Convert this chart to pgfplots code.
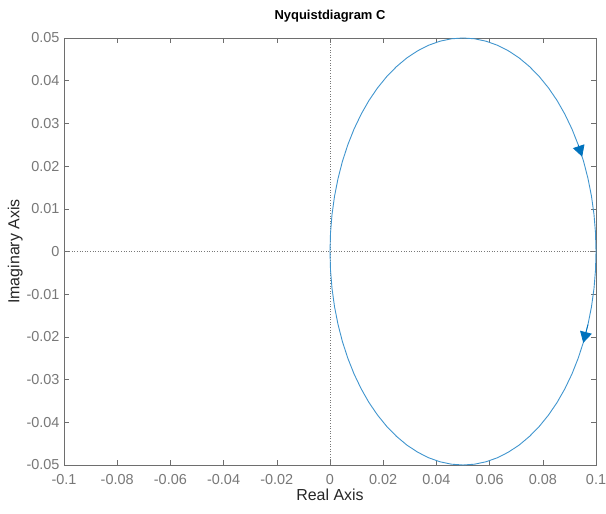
\documentclass[border=0pt]{standalone}
\usepackage{pgfplots}
\pgfplotsset{compat=1.18}
\usepackage{fontspec}
\setmainfont{Liberation Sans}
\usetikzlibrary{arrows.meta}
\definecolor{mblue}{RGB}{0,114,189}
\definecolor{axgray}{RGB}{110,110,110}
\definecolor{lblgray}{RGB}{120,120,120}
\definecolor{txtdark}{RGB}{38,38,38}

\pgfplotstableread{
x y
0.10000 0.00000
0.09981 0.00436
0.09924 0.00868
0.09830 0.01294
0.09698 0.01710
0.09532 0.02113
0.09330 0.02500
0.09096 0.02868
0.08830 0.03214
0.08536 0.03536
0.08214 0.03830
0.07868 0.04096
0.07500 0.04330
0.07113 0.04532
0.06710 0.04698
0.06294 0.04830
0.05868 0.04924
0.05436 0.04981
0.05000 0.05000
0.04564 0.04981
0.04132 0.04924
0.03706 0.04830
0.03290 0.04698
0.02887 0.04532
0.02500 0.04330
0.02132 0.04096
0.01786 0.03830
0.01464 0.03536
0.01170 0.03214
0.00904 0.02868
0.00670 0.02500
0.00468 0.02113
0.00302 0.01710
0.00170 0.01294
0.00076 0.00868
0.00019 0.00436
0.00000 0.00000
0.00019 -0.00436
0.00076 -0.00868
0.00170 -0.01294
0.00302 -0.01710
0.00468 -0.02113
0.00670 -0.02500
0.00904 -0.02868
0.01170 -0.03214
0.01464 -0.03536
0.01786 -0.03830
0.02132 -0.04096
0.02500 -0.04330
0.02887 -0.04532
0.03290 -0.04698
0.03706 -0.04830
0.04132 -0.04924
0.04564 -0.04981
0.05000 -0.05000
0.05436 -0.04981
0.05868 -0.04924
0.06294 -0.04830
0.06710 -0.04698
0.07113 -0.04532
0.07500 -0.04330
0.07868 -0.04096
0.08214 -0.03830
0.08536 -0.03536
0.08830 -0.03214
0.09096 -0.02868
0.09330 -0.02500
0.09532 -0.02113
0.09698 -0.01710
0.09830 -0.01294
0.09924 -0.00868
0.09981 -0.00436
0.10000 0.00000
}\nyqdata

\begin{document}
\begin{tikzpicture}[x=1bp,y=1bp]
\path[use as bounding box] (-64,-49) rectangle (542,465);
\begin{axis}[
  at={(0,0)}, anchor=south west,
  scale only axis,
  width=532bp, height=427bp,
  xmin=-0.1, xmax=0.1, ymin=-0.05, ymax=0.05,
  scaled x ticks=false, scaled y ticks=false,
  axis line style={axgray, line width=0.5bp},
  tick style={axgray, line width=0.5bp},
  tick align=inside,
  major tick length=5bp,
  xtick={-0.1,-0.08,-0.06,-0.04,-0.02,0,0.02,0.04,0.06,0.08,0.1},
  xticklabels={-0.1,-0.08,-0.06,-0.04,-0.02,0,0.02,0.04,0.06,0.08,0.1},
  ytick={-0.05,-0.04,-0.03,-0.02,-0.01,0,0.01,0.02,0.03,0.04,0.05},
  yticklabels={-0.05,-0.04,-0.03,-0.02,-0.01,0,0.01,0.02,0.03,0.04,0.05},
  ticklabel style={font=\fontsize{14.5}{16}\selectfont, text=lblgray},
  xticklabel style={yshift=-6bp},
  yticklabel style={xshift=-1bp},
  title={\bfseries Nyquistdiagram C},
  title style={font=\fontsize{13}{15}\selectfont, text=black, yshift=6bp},
  xlabel={Real Axis},
  ylabel={Imaginary Axis},
  label style={font=\fontsize{16}{18}\selectfont, text=txtdark},
  xlabel style={yshift=3bp},
  ylabel style={yshift=-3bp},
  /pgf/number format/assume math mode=true,
  clip=false,
]
% zero reference lines
\addplot[lblgray, dotted, line width=0.6bp] coordinates {(-0.1,0) (0.1,0)};
\addplot[lblgray, dotted, line width=0.6bp] coordinates {(0,-0.05) (0,0.05)};
% frequency response
\addplot[mblue!75!white, line width=0.9bp] table[x=x,y=y] {\nyqdata};
% direction arrows
\addplot[mblue, line width=0.8bp, -{Triangle[length=11bp,width=12bp]}]
  coordinates {(0.09330,0.02500) (0.09479,0.02220)};
\addplot[mblue, line width=0.8bp, -{Triangle[length=11bp,width=12bp]}]
  coordinates {(0.09698,-0.01710) (0.09520,-0.02140)};
\end{axis}
\end{tikzpicture}
\end{document}
